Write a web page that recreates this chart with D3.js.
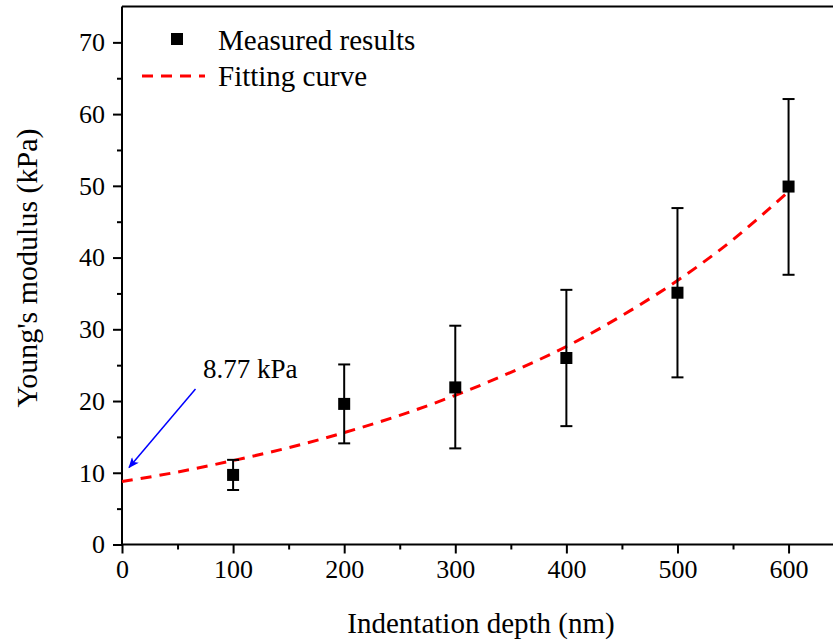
<!DOCTYPE html>
<html>
<head>
<meta charset="utf-8">
<script src="https://cdn.jsdelivr.net/npm/d3@7"></script>
<style>
  body { margin: 0; background: #fff; }
  svg { font-family: "Liberation Serif", "Times New Roman", serif; }
</style>
</head>
<body>
<div id="chart"></div>
<script>
var width = 833, height = 640;

// measured data (depth nm, modulus kPa, error bar low/high)
var depths    = [100, 200, 300, 400, 500, 600];
var modulus   = [9.7, 19.6, 21.9, 26.0, 35.1, 49.9];
var errLow    = [7.6, 14.1, 13.4, 16.5, 23.3, 37.6];
var errHigh   = [11.8, 25.1, 30.5, 35.5, 46.9, 62.1];

// fitting curve
var fitX = [0, 50, 100, 150, 200, 250, 300, 350, 400, 450, 500, 550, 600];
var fitY = [8.77, 10.1, 11.7, 13.5, 15.6, 18.0, 20.8, 24.0, 27.6, 31.9, 36.8, 42.5, 49.2];

var xTicks = [0, 100, 200, 300, 400, 500, 600];
var yTicks = [0, 10, 20, 30, 40, 50, 60, 70];

var x = d3.scaleLinear().domain([0, 640]).range([122, 833]);
var y = d3.scaleLinear().domain([0, 75]).range([544.5, 6.5]);

var svg = d3.select("#chart")
    .append("svg")
    .attr("width", width)
    .attr("height", height);

// top frame line
svg.append("line")
    .attr("x1", x(0)).attr("x2", width)
    .attr("y1", y(75)).attr("y2", y(75))
    .attr("stroke", "#000").attr("stroke-width", 2);

// x axis: minor then major ticks
var xAxis = svg.append("g").attr("transform", "translate(0," + y(0) + ")")
    .call(d3.axisBottom(x).tickValues(d3.range(50, 650, 100)).tickSize(5).tickFormat(""));
var xMajor = svg.append("g").attr("transform", "translate(0," + y(0) + ")")
    .call(d3.axisBottom(x).tickValues(xTicks).tickSize(9).tickPadding(6).tickFormat(d3.format("d")));
[xAxis, xMajor].forEach(function(g) {
    g.select(".domain").attr("stroke-width", 2);
    g.selectAll(".tick line").attr("stroke-width", 2);
});
xAxis.select(".domain").attr("d", "M" + x(0) + ",0H" + width);
xMajor.select(".domain").remove();
xMajor.selectAll(".tick text")
    .attr("font-size", "26px")
    .attr("font-family", "Liberation Serif")
    .attr("fill", "#000");

// y axis
var yAxis = svg.append("g").attr("transform", "translate(" + x(0) + ",0)")
    .call(d3.axisLeft(y).tickValues(d3.range(5, 75, 10)).tickSize(5).tickFormat(""));
var yMajor = svg.append("g").attr("transform", "translate(" + x(0) + ",0)")
    .call(d3.axisLeft(y).tickValues(yTicks).tickSize(9).tickPadding(8).tickFormat(d3.format("d")));
[yAxis, yMajor].forEach(function(g) {
    g.select(".domain").attr("stroke-width", 2);
    g.selectAll(".tick line").attr("stroke-width", 2);
});
yAxis.select(".domain").attr("d", "M0," + y(75) + "V" + y(0));
yMajor.select(".domain").remove();
yMajor.selectAll(".tick text")
    .attr("font-size", "26px")
    .attr("font-family", "Liberation Serif")
    .attr("fill", "#000");

// axis titles
svg.append("text")
    .attr("x", 481).attr("y", 633)
    .attr("text-anchor", "middle")
    .style("font-size", "29px")
    .text("Indentation depth (nm)");

svg.append("text")
    .attr("transform", "translate(37,268) rotate(-90)")
    .attr("text-anchor", "middle")
    .style("font-size", "30px")
    .text("Young's modulus (kPa)");

// fitting curve
var fitLine = d3.line()
    .curve(d3.curveCatmullRom)
    .x(function(d) { return x(d[0]); })
    .y(function(d) { return y(d[1]); });

svg.append("path")
    .datum(d3.zip(fitX, fitY))
    .attr("d", fitLine)
    .attr("fill", "none")
    .attr("stroke", "#f00")
    .attr("stroke-width", 3)
    .attr("stroke-dasharray", "11,8");

// error bars
var pts = depths.map(function(d, i) {
    return { x: d, y: modulus[i], lo: errLow[i], hi: errHigh[i] };
});

var eb = svg.append("g").selectAll("g")
    .data(pts)
    .enter().append("g")
    .attr("stroke", "#000")
    .attr("stroke-width", 2);

eb.append("line")
    .attr("x1", function(d) { return x(d.x); })
    .attr("x2", function(d) { return x(d.x); })
    .attr("y1", function(d) { return y(d.lo); })
    .attr("y2", function(d) { return y(d.hi); });
eb.append("line")
    .attr("x1", function(d) { return x(d.x) - 6; })
    .attr("x2", function(d) { return x(d.x) + 6; })
    .attr("y1", function(d) { return y(d.lo); })
    .attr("y2", function(d) { return y(d.lo); });
eb.append("line")
    .attr("x1", function(d) { return x(d.x) - 6; })
    .attr("x2", function(d) { return x(d.x) + 6; })
    .attr("y1", function(d) { return y(d.hi); })
    .attr("y2", function(d) { return y(d.hi); });

svg.append("g").selectAll("rect")
    .data(pts)
    .enter().append("rect")
    .attr("x", function(d) { return x(d.x) - 6; })
    .attr("y", function(d) { return y(d.y) - 6; })
    .attr("width", 12)
    .attr("height", 12)
    .attr("fill", "#000");

// annotation arrow
svg.append("defs").append("marker")
    .attr("id", "arrow")
    .attr("viewBox", "0 0 12 10")
    .attr("refX", 11).attr("refY", 5)
    .attr("markerWidth", 13).attr("markerHeight", 9)
    .attr("markerUnits", "userSpaceOnUse")
    .attr("orient", "auto")
    .append("path")
    .attr("d", "M0,0L12,5L0,10L3,5z")
    .attr("fill", "#00f");

svg.append("line")
    .attr("x1", 195.5).attr("y1", 389)
    .attr("x2", 129).attr("y2", 467.5)
    .attr("stroke", "#00f")
    .attr("stroke-width", 1.5)
    .attr("marker-end", "url(#arrow)");

svg.append("text")
    .attr("x", 203).attr("y", 378)
    .style("font-size", "27px")
    .text("8.77 kPa");

// legend
svg.append("rect")
    .attr("x", 171).attr("y", 33)
    .attr("width", 12).attr("height", 12)
    .attr("fill", "#000");
svg.append("text")
    .attr("x", 218).attr("y", 50)
    .style("font-size", "29px")
    .text("Measured results");

svg.append("line")
    .attr("x1", 142).attr("x2", 205)
    .attr("y1", 76).attr("y2", 76)
    .attr("stroke", "#f00")
    .attr("stroke-width", 3)
    .attr("stroke-dasharray", "11,8");
svg.append("text")
    .attr("x", 218).attr("y", 86)
    .style("font-size", "29px")
    .text("Fitting curve");
</script>
</body>
</html>
